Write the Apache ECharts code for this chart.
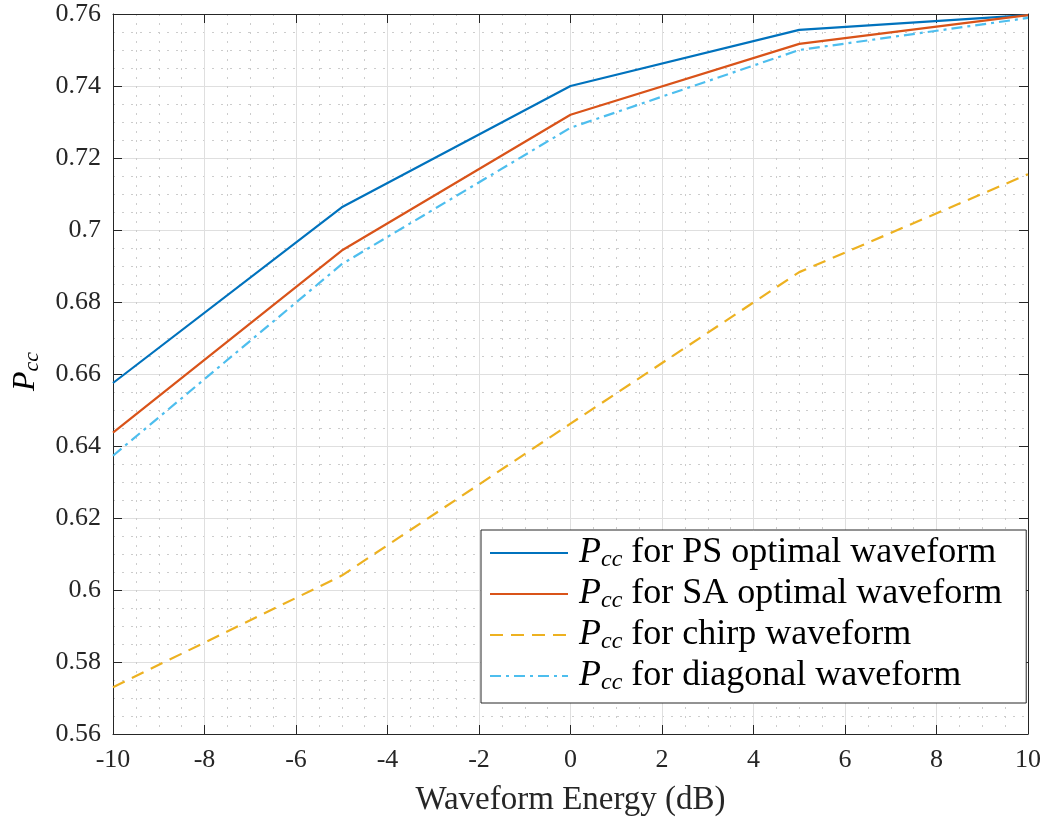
<!DOCTYPE html>
<html>
<head>
<meta charset="utf-8">
<script src="https://cdn.jsdelivr.net/npm/echarts@6/dist/echarts.min.js"></script>
<style>
  html, body { margin: 0; padding: 0; background: #fff; }
  #chart { width: 1053px; height: 822px; }
</style>
</head>
<body>
<div id="chart"></div>
<script>
// waveform energy in dB
const energy = [-10, -5, 0, 5, 10]
const psOptimal = [0.6575, 0.7063, 0.7400, 0.7556, 0.7597]
const saOptimal = [0.6437, 0.6943, 0.7320, 0.7517, 0.7597]
const chirp = [0.5730, 0.6040, 0.6462, 0.6883, 0.7155]
const diagonal = [0.6373, 0.6905, 0.7284, 0.7500, 0.7589]
const seriesNames = ['PS optimal waveform', 'SA optimal waveform', 'chirp waveform', 'diagonal waveform']

const serif = 'Liberation Serif'
const textColor = '#262626'

function pairs(ys) {
    return energy.map((x, i) => [x, ys[i]])
}

function pccRich(size) {
    return {
        p: { fontFamily: serif, fontStyle: 'italic', fontSize: size, color: '#000' },
        s: { fontFamily: serif, fontStyle: 'italic', fontSize: Math.round(size * 0.68), color: '#000', padding: [Math.round(size * 0.4), 0, 0, 0] },
        t: { fontFamily: serif, fontSize: size, color: '#000' }
    }
}

function axisCommon(show) {
    return {
        axisLine: { show: true, onZero: false, lineStyle: { color: textColor, width: 1 } },
        axisTick: { show: true, inside: true, length: 9, lineStyle: { color: textColor } },
        axisLabel: { show: show },
        minorTick: { show: false, splitNumber: 4 }
    }
}

const minorLine = { show: true, lineStyle: { color: '#cccccc', width: 1, type: [2, 7] } }

const chart = echarts.init(document.getElementById('chart'))

chart.setOption({
    animation: false,
    backgroundColor: '#fff',
    grid: { left: 113, right: 25, top: 14, bottom: 86, containLabel: false },
    xAxis: [
        Object.assign(axisCommon(true), {
            type: 'value', min: -10, max: 10, interval: 2,
            name: 'Waveform Energy (dB)', nameLocation: 'middle', nameGap: 50,
            nameTextStyle: { fontFamily: serif, fontSize: 33, color: textColor },
            axisLabel: { fontFamily: serif, fontSize: 26, color: textColor, margin: 13 },
            splitLine: { show: true, lineStyle: { color: '#dfdfdf', width: 1 } },
            minorSplitLine: minorLine
        }),
        Object.assign(axisCommon(false), {
            type: 'value', min: -10, max: 10, interval: 2, position: 'top',
            splitLine: { show: false }
        })
    ],
    yAxis: [
        Object.assign(axisCommon(true), {
            type: 'value', min: 0.56, max: 0.76, interval: 0.02,
            axisLabel: {
                fontFamily: serif, fontSize: 26, color: textColor, margin: 12,
                formatter: v => String(+v.toFixed(2))
            },
            splitLine: { show: true, lineStyle: { color: '#dfdfdf', width: 1 } },
            minorSplitLine: minorLine
        }),
        Object.assign(axisCommon(false), {
            type: 'value', min: 0.56, max: 0.76, interval: 0.02, position: 'right',
            splitLine: { show: false }
        })
    ],
    legend: {
        left: 481, top: 530,
        orient: 'vertical',
        backgroundColor: '#fff',
        borderColor: '#262626', borderWidth: 1,
        padding: [5, 24, 8, 8],
        itemWidth: 78, itemHeight: 14, itemGap: 4,
        itemStyle: { opacity: 0 },
        formatter: name => '{p|P}{s|cc}{t| for ' + name + '}',
        textStyle: { rich: pccRich(36), fontSize: 36, padding: [0, 0, 0, 6] },
        data: seriesNames
    },
    graphic: [{
        type: 'text',
        left: 10, top: 352,
        rotation: Math.PI / 2,
        style: {
            text: '{p|P}{s|cc}',
            rich: pccRich(32)
        }
    }],
    series: [
        {
            name: seriesNames[0], type: 'line', data: pairs(psOptimal),
            showSymbol: false, symbol: 'none', color: '#0072BD',
            lineStyle: { width: 2.2, color: '#0072BD' }
        },
        {
            name: seriesNames[1], type: 'line', data: pairs(saOptimal),
            showSymbol: false, symbol: 'none', color: '#D95319',
            lineStyle: { width: 2.2, color: '#D95319' }
        },
        {
            name: seriesNames[2], type: 'line', data: pairs(chirp),
            showSymbol: false, symbol: 'none', color: '#EDB120',
            lineStyle: { width: 2.2, color: '#EDB120', type: [13, 8] }
        },
        {
            name: seriesNames[3], type: 'line', data: pairs(diagonal),
            showSymbol: false, symbol: 'none', color: '#4DBEEE',
            lineStyle: { width: 2.2, color: '#4DBEEE', type: [11, 5, 3, 5] }
        }
    ]
})
</script>
</body>
</html>
